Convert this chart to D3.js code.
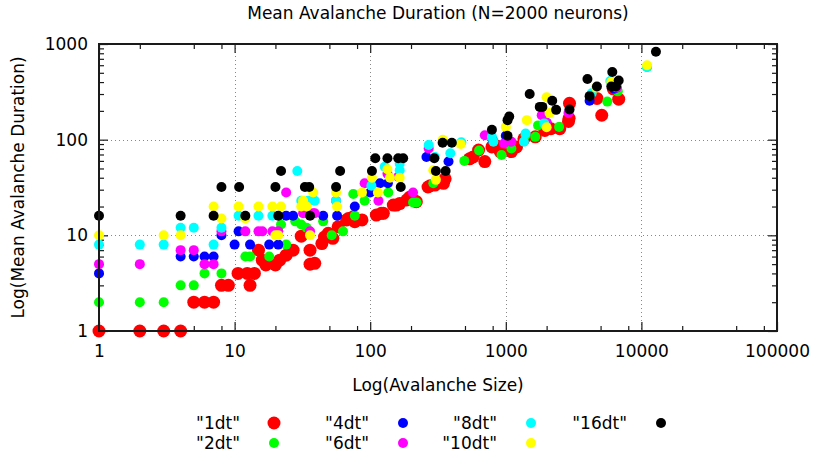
<!DOCTYPE html>
<html>
<head>
<meta charset="utf-8">
<script src="https://cdn.jsdelivr.net/npm/d3@7"></script>
<style>
  body { margin: 0; background: #fff; }
  svg { display: block; }
  text { font-family: "DejaVu Sans", sans-serif; fill: #000; }
</style>
</head>
<body>
<svg id="chart" width="814" height="457"></svg>
<script>
// Mean avalanche duration vs avalanche size, one series per time bin width.
// Each point: [avalanche size, mean duration]
const seriesNames = ["1dt", "2dt", "4dt", "6dt", "8dt", "10dt", "16dt"];
const seriesColors = ["#ff0000", "#00ff00", "#0000ff", "#ff00ff", "#00ffff", "#ffff00", "#000000"];

const dt1 = [
  [1,1],[2,1],[3,1],[4,1],[5,2],[6,2],[7,2],[8,3],[9,3],[13,3],[10.6,4],[12.4,4],[14,4],
  [15,7],[16,5.5],[17,4.9],[20,4.9],[21.5,5.5],[24,6.2],[27,7],[31,9.8],[36,7],[36,5],[39,5.1],
  [44,8.2],[46,9.6],[49,10.5],[53,9.3],[58,12.3],[67,14.5],[69,15],[75,15.6],[77,13.9],[87,14.5],
  [111,16.3],[121,17],[125,17],[148,20.7],[156,20.7],[165,21.5],[186,23.4],[195,25],[213,23],
  [219,22.5],[267,32],[277,33],[300,33.5],[335,36],[347,35],[357,39],[540,63],[575,66],[630,78],
  [700,59],[790,84],[830,88],[910,75],[1100,75],[1200,84],[1360,102],[1650,107],[1940,125],
  [2150,130],[2500,130],[2900,155],[2930,167],[2950,240],[4700,270],[5100,180],[6200,340],[6800,265]
];
const dt2 = [
  [1,2],[2,2],[3,2],[4,3],[5,3],[6,4],[8,4],[12,6],[13,6],[18,6],[22,13],[24,8],[28,14],[31,13],
  [34,12],[45,14],[52,10],[63,11],[75,27],[77,16],[91,23],[136,28],[207,22],[220,22],[292,35],
  [495,60],[635,77],[930,69],[1100,81],[1400,111],[1650,107],[1730,141],[2470,136],[5600,250],
  [6700,320],[11000,575]
];
const dt4 = [
  [1,4],[4,6],[5,6],[6,6],[7,6],[8,10],[10,8],[10.7,11],[13,8],[18,8],[21,8],[24,16],[27,16],
  [45,16],[57,16],[77,20],[100,28],[118,35],[135,35],[260,66],[378,59],[800,100],[1000,110],
  [2000,150],[4150,255],[6300,340]
];
const dt6 = [
  [1,5],[2,5],[4,7],[5,7],[6,5],[7,5],[8,11],[12,11],[15,11],[16,11],[19,11],[21,11],[24,28],
  [32,17],[36,11],[38,17],[39,17],[56,23],[91,35],[115,23],[134,44],[161,41],[207,28],[270,81],
  [700,111],[970,91],[1100,95],[1840,180],[2000,150],[2900,190],[6600,350]
];
const dt8 = [
  [1,8],[2,8],[3,8],[4,12],[5,12],[7,8],[8,12],[10.7,16],[15,16],[19,16],[29,47],[31,23],[35,23],
  [39,23],[56,23],[102,33],[128,52],[165,56],[165,48],[270,88],[300,66],[390,72],[470,94],
  [790,107],[810,95],[1360,95],[1400,116],[1920,148],[4300,305],[5900,410],[6600,385],[11000,575]
];
const dt10 = [
  [1,10],[3,10],[4,10],[7,20],[8,15],[10.7,20],[12,15],[15,20],[19,20],[20,10],[21,10],[22,20],
  [31,20],[32,23],[34,20],[38,28],[36,10],[56,28],[57,20],[87,28],[103,40],[114,28],[134,49],
  [140,40],[165,40],[292,48],[305,38],[343,100],[465,90],[1000,136],[1430,160],[2000,278],
  [2100,190],[2000,135],[4650,350],[6000,400],[11000,600]
];
const dt16 = [
  [1,16],[4,16],[7,16],[8,32],[10.8,32],[12,16],[20,32],[21,16],[22,47],[33,32],[35.5,32],[36,16],
  [56,32],[60,47],[103,47],[109,64],[134,64],[161,64],[175,64],[168,32],[297,64],[305,47],[342,93],
  [400,93],[360,47],[790,127],[1030,110],[1030,160],[1060,175],[1500,300],[1780,220],[1860,220],
  [2200,255],[2350,205],[2950,207],[4000,430],[4150,285],[4700,360],[6100,510],[6000,360],
  [6500,360],[6800,415],[12800,830]
];
const seriesData = [dt1, dt2, dt4, dt6, dt8, dt10, dt16];
const seriesRadius = [6.5, 5, 5, 5, 5, 5, 5];

const xTickValues = [1, 10, 100, 1000, 10000, 100000];
const yTickValues = [1, 10, 100, 1000];
const xMinorSteps = [2, 5, 8];
const yMinorSteps = [2, 3, 4, 5, 6, 7, 8, 9];

const svg = d3.select("#chart");
const plotLeft = 99, plotRight = 777, plotTop = 44, plotBottom = 331;
const fontSize = 17;

const x = d3.scaleLog().domain([1, 100000]).range([plotLeft, plotRight]);
const y = d3.scaleLog().domain([1, 1000]).range([plotBottom, plotTop]);

// Minor tick positions within each decade
const minorX = [];
for (let e = 0; e < 5; e++) xMinorSteps.forEach(k => minorX.push(k * Math.pow(10, e)));
const minorY = [];
for (let e = 0; e < 3; e++) yMinorSteps.forEach(k => minorY.push(k * Math.pow(10, e)));

// Dotted grid at major decades
const grid = svg.append("g").attr("stroke", "#888").attr("stroke-width", 1)
  .attr("stroke-dasharray", "1,3");
grid.selectAll("line.gx").data(xTickValues.slice(1, -1)).join("line")
  .attr("x1", d => Math.round(x(d)) + 0.5).attr("x2", d => Math.round(x(d)) + 0.5)
  .attr("y1", plotTop).attr("y2", plotBottom);
grid.selectAll("line.gy").data(yTickValues.slice(1, -1)).join("line")
  .attr("y1", d => Math.round(y(d)) + 0.5).attr("y2", d => Math.round(y(d)) + 0.5)
  .attr("x1", plotLeft).attr("x2", plotRight);

// Axes with inward ticks, mirrored on all four sides
const axisColor = "#1a1a1a";
function styleAxis(g) {
  g.select(".domain").remove();
  g.selectAll(".tick line").attr("stroke", axisColor).attr("stroke-width", 1.2);
}
const bottomAxis = svg.append("g").attr("transform", `translate(0,${plotBottom})`)
  .call(d3.axisBottom(x).tickValues(xTickValues).tickSize(-9).tickFormat(d3.format("d")));
styleAxis(bottomAxis);
bottomAxis.selectAll("text").attr("font-size", fontSize).attr("y", 14).attr("fill", "#000");
svg.append("g").attr("transform", `translate(0,${plotBottom})`)
  .call(d3.axisBottom(x).tickValues(minorX).tickSize(-5).tickFormat(""))
  .call(styleAxis);
svg.append("g").attr("transform", `translate(0,${plotTop})`)
  .call(d3.axisTop(x).tickValues(xTickValues).tickSize(-9).tickFormat(""))
  .call(styleAxis);
svg.append("g").attr("transform", `translate(0,${plotTop})`)
  .call(d3.axisTop(x).tickValues(minorX).tickSize(-5).tickFormat(""))
  .call(styleAxis);

const leftAxis = svg.append("g").attr("transform", `translate(${plotLeft},0)`)
  .call(d3.axisLeft(y).tickValues(yTickValues).tickSize(-9).tickPadding(11).tickFormat(d3.format("d")));
styleAxis(leftAxis);
leftAxis.selectAll("text").attr("font-size", fontSize).attr("fill", "#000");
svg.append("g").attr("transform", `translate(${plotLeft},0)`)
  .call(d3.axisLeft(y).tickValues(minorY).tickSize(-5).tickFormat(""))
  .call(styleAxis);
svg.append("g").attr("transform", `translate(${plotRight},0)`)
  .call(d3.axisRight(y).tickValues(yTickValues).tickSize(-9).tickFormat(""))
  .call(styleAxis);
svg.append("g").attr("transform", `translate(${plotRight},0)`)
  .call(d3.axisRight(y).tickValues(minorY).tickSize(-5).tickFormat(""))
  .call(styleAxis);

// Data points, drawn series by series (later series on top)
seriesData.forEach((pts, i) => {
  svg.append("g").selectAll("circle").data(pts).join("circle")
    .attr("cx", d => x(d[0]))
    .attr("cy", d => y(d[1]))
    .attr("r", seriesRadius[i])
    .attr("fill", seriesColors[i]);
});

// Frame
svg.append("rect").attr("x", plotLeft).attr("y", plotTop)
  .attr("width", plotRight - plotLeft).attr("height", plotBottom - plotTop)
  .attr("fill", "none").attr("stroke", axisColor).attr("stroke-width", 2);

// Titles
svg.append("text").attr("x", (plotLeft + plotRight) / 2).attr("y", 18.5)
  .attr("text-anchor", "middle").attr("font-size", fontSize)
  .text("Mean Avalanche Duration (N=2000 neurons)");
svg.append("text").attr("x", (plotLeft + plotRight) / 2).attr("y", 391)
  .attr("text-anchor", "middle").attr("font-size", fontSize)
  .text("Log(Avalanche Size)");
svg.append("text").attr("transform", `translate(24,${(plotTop + plotBottom) / 2}) rotate(-90)`)
  .attr("text-anchor", "middle").attr("font-size", fontSize)
  .text("Log(Mean Avalanche Duration)");

// Legend: two rows, filled column by column
const legendCols = [240, 369, 497, 627];
const legendRows = [423, 443];
const legend = svg.append("g");
seriesNames.forEach((name, i) => {
  const col = Math.floor(i / 2), row = i % 2;
  const tx = legendCols[col], ty = legendRows[row];
  legend.append("text").attr("x", tx).attr("y", ty).attr("dy", "0.35em")
    .attr("text-anchor", "end").attr("font-size", fontSize).text(`"${name}"`);
  legend.append("circle").attr("cx", tx + 34).attr("cy", ty)
    .attr("r", seriesRadius[i]).attr("fill", seriesColors[i]);
});
</script>
</body>
</html>
